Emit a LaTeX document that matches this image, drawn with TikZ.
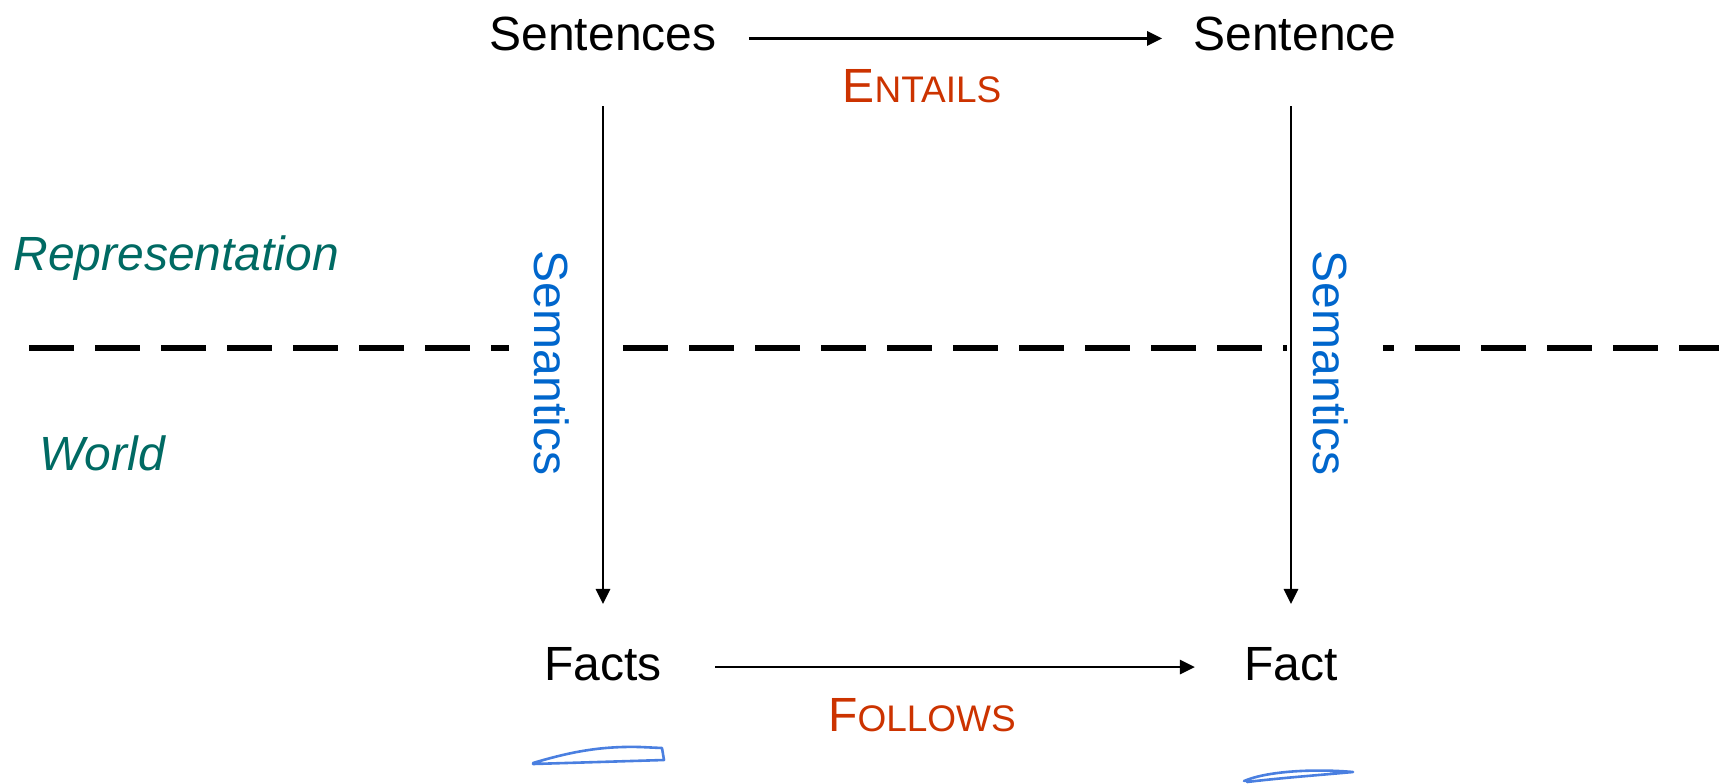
\documentclass[tikz,border=0pt]{standalone}
\usepackage{fontspec}
\setmainfont{Liberation Sans}
\usetikzlibrary{arrows.meta,calc}
\definecolor{redor}{HTML}{CC3300}
\definecolor{tealc}{HTML}{006A63}
\definecolor{semblue}{HTML}{0066CC}
\definecolor{scrib}{HTML}{4A7FE0}
\newcommand\fakesc[2]{#1{\fontsize{18.5}{20}\selectfont #2}}
\begin{document}
\begin{tikzpicture}[x=0.5pt,y=-0.5pt,
  lbl/.style={inner sep=0pt,font=\fontsize{24}{28}\selectfont},
  itl/.style={lbl,font=\fontsize{24}{28}\selectfont\itshape,text=tealc,anchor=base west},
  sem/.style={lbl,rotate=-90,text=semblue},
  arr/.style={line width=1.4pt,-{Triangle[length=7.5pt,width=7pt]}},
  divider/.style={line width=3pt,dash pattern=on 22.5pt off 10.5pt},
  scribble/.style={draw=scrib,line width=1.3pt,line cap=round,line join=round}]
\useasboundingbox (0,0) rectangle (1719,783);
% divider
\coordinate (d0) at (29,348);
\coordinate (d1) at (509,348);
\coordinate (d2) at (623,348);
\coordinate (d3) at (1287,348);
\coordinate (d4) at (1383,348);
\coordinate (d5) at (1719,348);
\draw[divider] (d0) -- (d1);
\draw[divider] (d2) -- (d3);
\draw[divider,dash phase=17pt] (d4) -- (d5);
% nodes
\node[lbl,anchor=base] (sent) at (603,50.4) {Sentences};
\node[lbl,anchor=base] (sentr) at (1295,50.4) {Sentence};
\node[lbl,anchor=base] (facts) at (603,680) {Facts};
\node[lbl,anchor=base] (fact) at (1291,680) {Fact};
\node[lbl,anchor=base,text=redor] (ent) at (922,102) {\fakesc{E}{NTAILS}};
\node[lbl,anchor=base,text=redor] (fol) at (922,731) {\fakesc{F}{OLLOWS}};
\node[itl] (rep) at (13,270) {Representation};
\node[itl] (world) at (39,470) {World};
\node[sem] (seml) at (552,363) {Semantics};
\node[sem] (semr) at (1331,363) {Semantics};
% connectors
\draw[arr,shorten <=16pt,shorten >=15.5pt] ([yshift=6pt]sent.base east) -- ([yshift=6pt]sentr.base west);
\draw[arr,shorten <=26.5pt,shorten >=24.5pt] ([yshift=6.5pt]facts.base east) -- ([yshift=6.5pt]fact.base west);
\draw[arr,shorten <=27.5pt,shorten >=21.3pt] (sent.south) -- (facts.north);
\draw[arr,shorten <=27.5pt,shorten >=21.3pt] (sentr.south -| fact.north) -- (fact.north);
% scribbles
\draw[scribble] (533,763) .. controls (570,752) and (600,746) .. (640,747) -- (662,748) -- (664,760) -- (533,764);
\draw[scribble] (1244,781) .. controls (1270,770) and (1320,769) .. (1353,772) .. controls (1320,775) and (1280,778) .. (1247,782);
\end{tikzpicture}
\end{document}
